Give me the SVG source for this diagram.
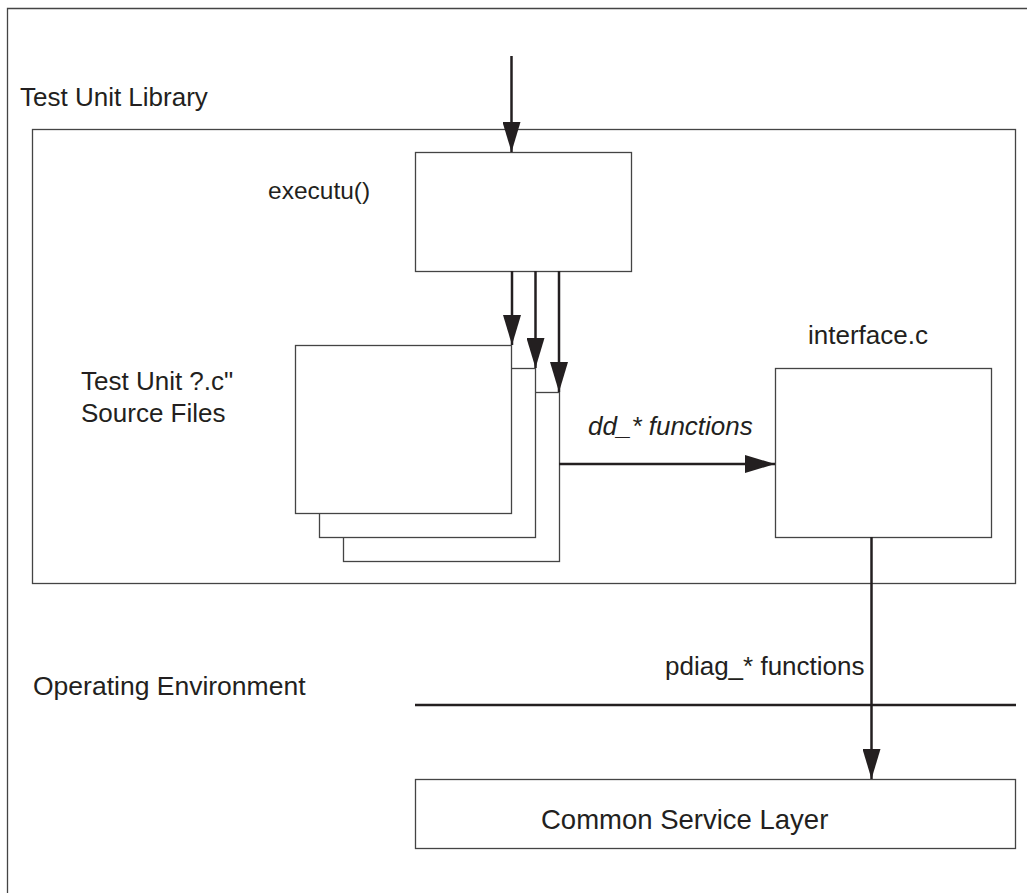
<svg xmlns="http://www.w3.org/2000/svg" width="1027" height="893" viewBox="0 0 1027 893">
<defs>
<marker id="ah" markerWidth="30" markerHeight="18" viewBox="0 0 30 18" refX="30" refY="9" orient="auto" markerUnits="userSpaceOnUse">
<path d="M0,0 L30,9 L0,18 Z" fill="#231f20"/>
</marker>
</defs>
<style>
.box{fill:#fff;stroke:#444;stroke-width:1.3}
.frame{fill:none;stroke:#444;stroke-width:1.3}
.t{font-family:"Liberation Sans",Arial,sans-serif;font-size:26px;fill:#231f20}
.c{stroke:#231f20;stroke-width:2.5;fill:none}
</style>
<rect width="1027" height="893" fill="#fff"/>
<g id="outer"><path class="frame" d="M7.5,893 L7.5,8.5 L1027,8.5"/></g>
<g id="library"><rect class="frame" x="32.5" y="129.5" width="983" height="454"/>
<text class="t" x="20" y="106">Test Unit Library</text></g>
<g id="executu"><rect class="box" x="415.5" y="152.5" width="216" height="119"/>
<text class="t" x="268" y="199" style="font-size:24.5px">executu()</text></g>
<g id="sources">
<rect class="box" x="343.5" y="392.5" width="216" height="169"/>
<rect class="box" x="319.5" y="368.5" width="216" height="169"/>
<rect class="box" x="295.5" y="345.5" width="216" height="168"/>
<text class="t" x="81" y="390">Test Unit ?.c"</text>
<text class="t" x="81" y="422">Source Files</text>
</g>
<g id="interface"><rect class="box" x="775.5" y="368.5" width="216" height="169"/>
<text class="t" x="808" y="344">interface.c</text></g>
<g id="openv"><text class="t" x="33" y="695" style="font-size:26.5px">Operating Environment</text>
<line x1="415" y1="705" x2="1016" y2="705" stroke="#231f20" stroke-width="2.5"/></g>
<g id="csl"><rect class="box" x="415.5" y="779.5" width="600" height="69"/>
<text class="t" x="541" y="829" style="font-size:27.5px">Common Service Layer</text></g>
<g id="connectors">
<line class="c" x1="511.5" y1="56" x2="511.5" y2="152" marker-end="url(#ah)"/>
<line class="c" x1="512" y1="271" x2="512" y2="345" marker-end="url(#ah)"/>
<line class="c" x1="535.5" y1="271" x2="535.5" y2="368" marker-end="url(#ah)"/>
<line class="c" x1="559" y1="271" x2="559" y2="392" marker-end="url(#ah)"/>
<line class="c" x1="559" y1="464" x2="775" y2="464" marker-end="url(#ah)"/>
<line class="c" x1="871.5" y1="537" x2="871.5" y2="779" marker-end="url(#ah)"/>
<text class="t" x="588" y="435" font-style="italic">dd_* functions</text>
<text class="t" x="665" y="675">pdiag_* functions</text>
</g>
</svg>
